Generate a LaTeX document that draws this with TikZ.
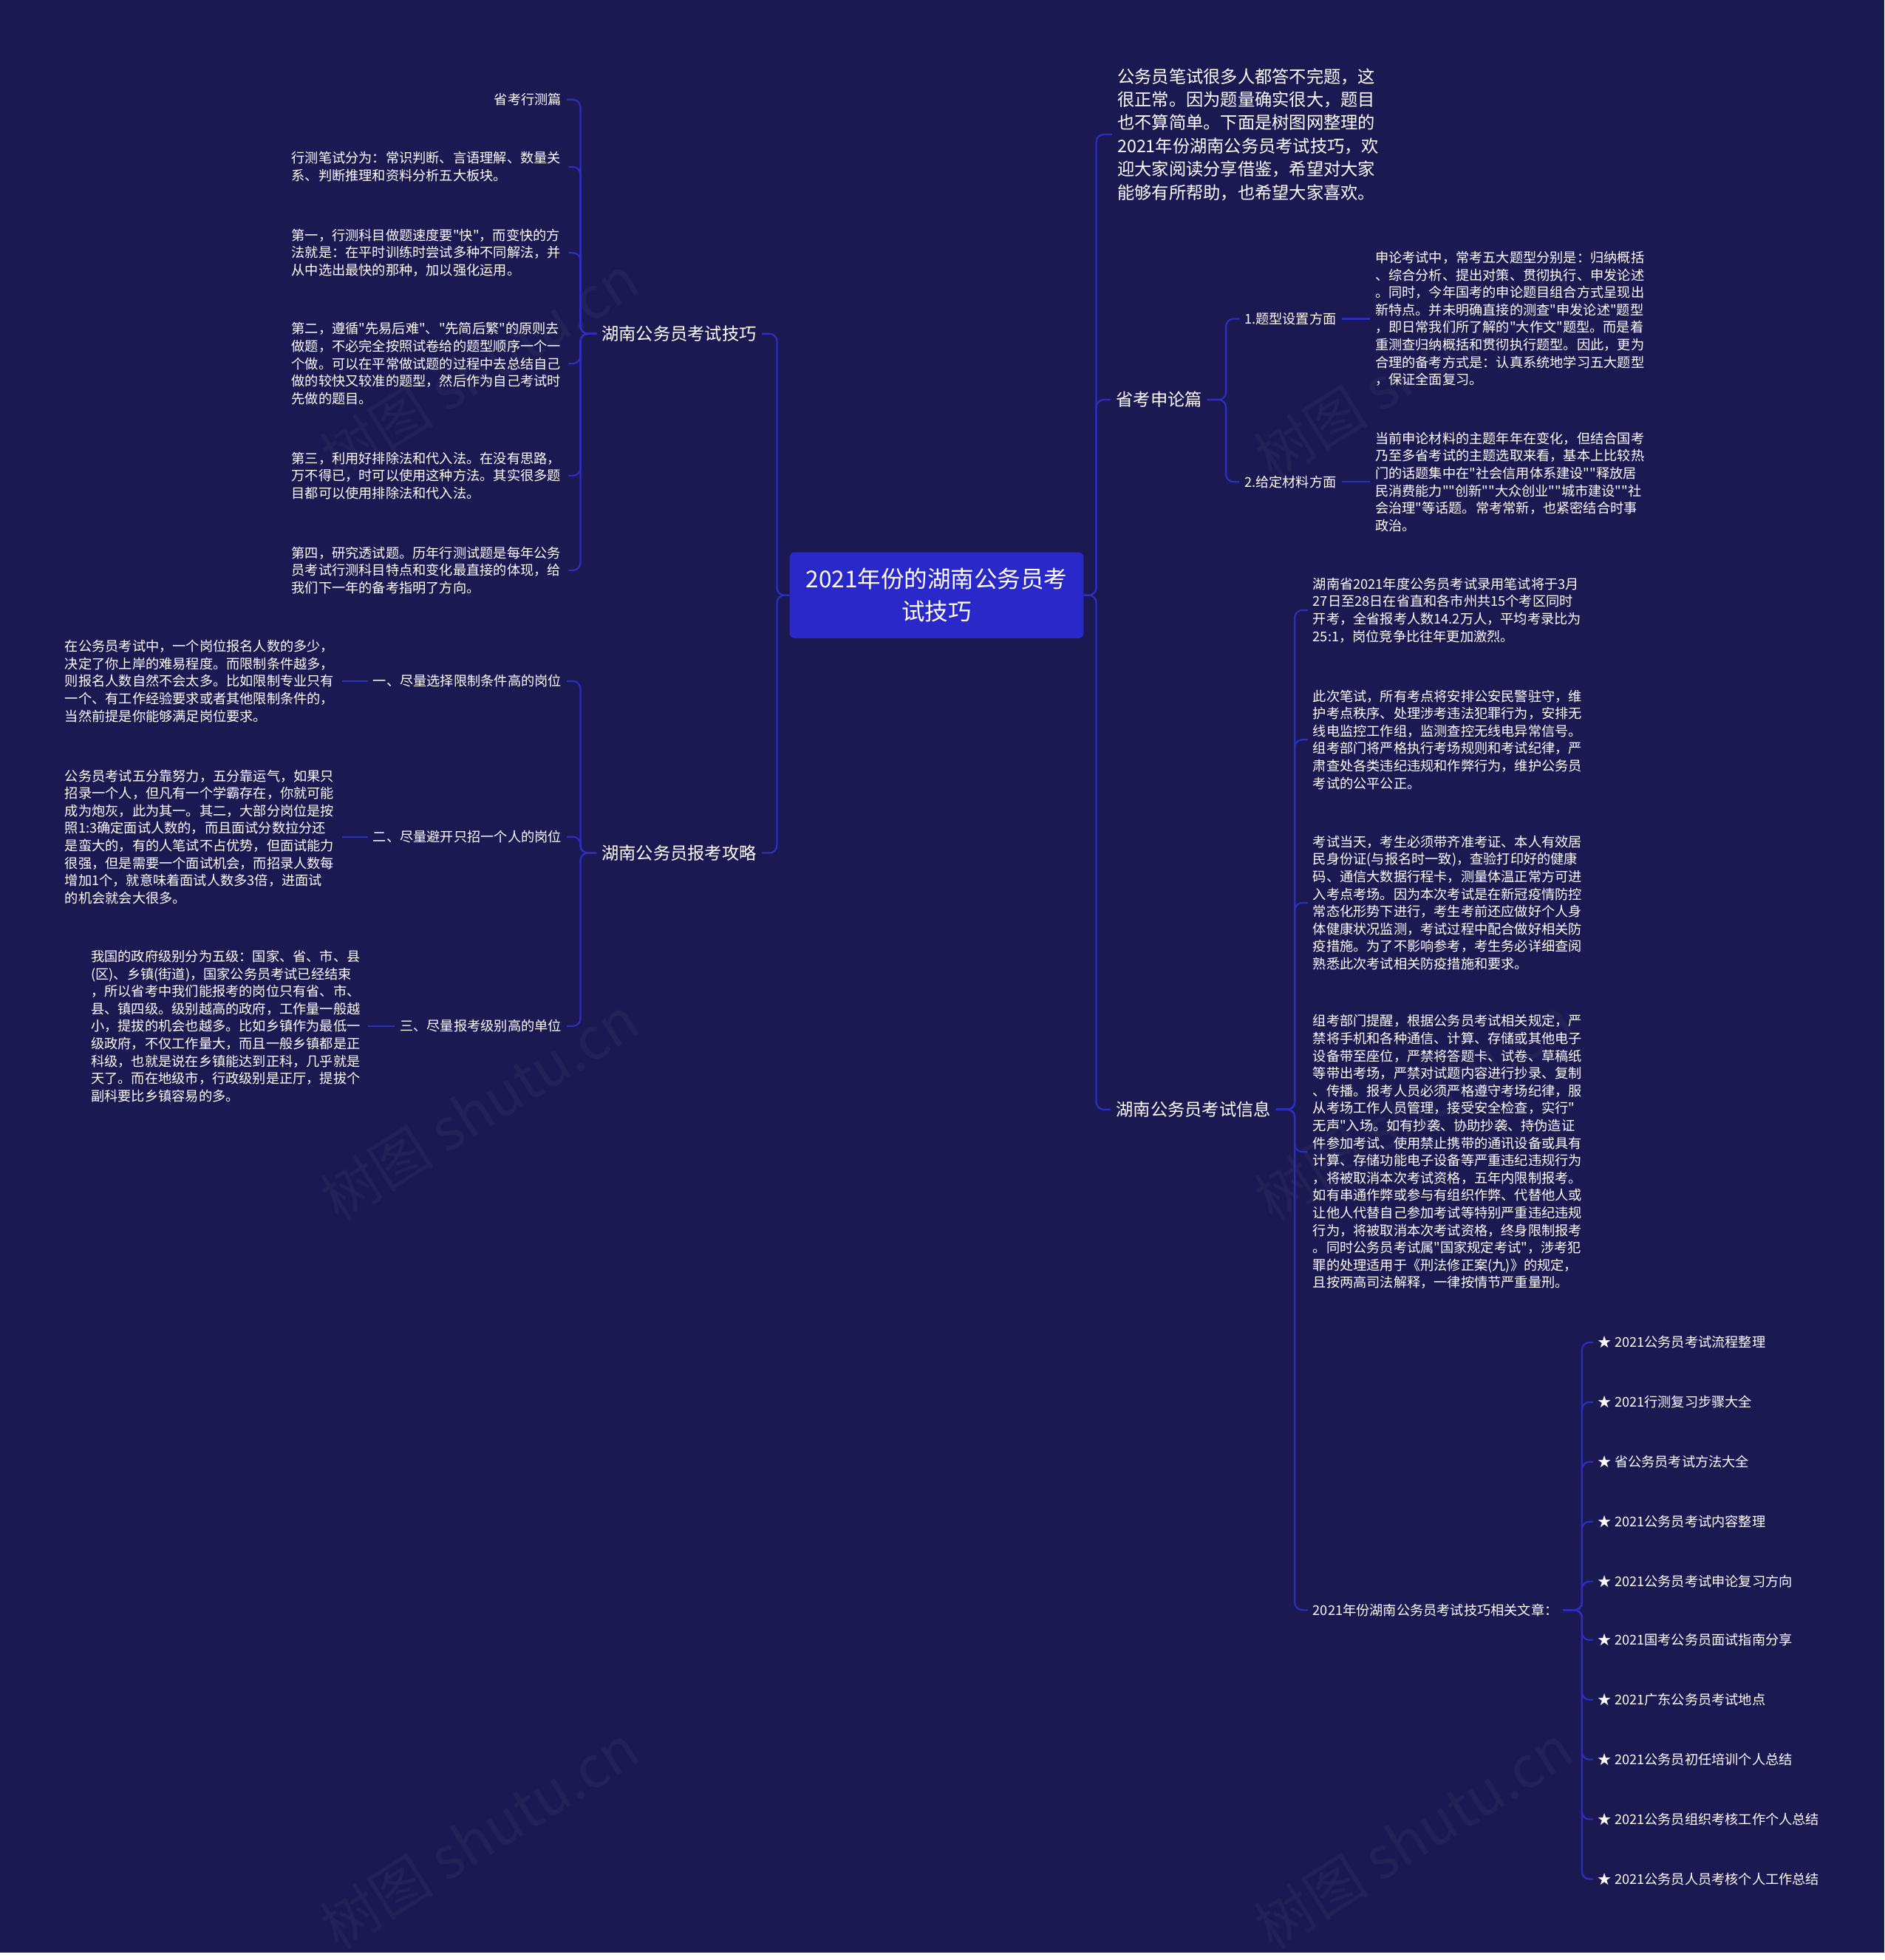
\documentclass[tikz,border=0pt]{standalone}
\usepackage{fontspec}
\newfontfamily\cjk{Noto Sans CJK SC}
\usepackage{tikz}
\definecolor{navybg}{HTML}{1A1951}
\definecolor{rootblue}{HTML}{2A28C8}
\definecolor{linkblue}{HTML}{2D2DC2}

\begin{document}
\begin{tikzpicture}[
  x=1pt, y=-1pt,
  root/.style={fill=rootblue, text=white, rounded corners=4pt, align=center, minimum width=236pt, minimum height=69pt, font=\cjk\fontsize{18.7}{26}\selectfont},
  topic/.style={text=white, inner sep=4pt, font=\cjk\fontsize{13.8}{18.6}\selectfont},
  leaf/.style={text=white, inner sep=4pt, font=\cjk\fontsize{10.8}{14}\selectfont},
  para/.style={leaf, align=left, text width=218pt},
  link/.style={draw=linkblue, line width=1.3pt, rounded corners=6pt},
  wmark/.style={text=white, text opacity=0.04, rotate=32, font=\cjk\fontsize{46}{46}\selectfont}
]
% canvas and faint watermarks
\fill[navybg] (0,0) rectangle (1513,1568);
\node[wmark] (wm1) at (385,295) {树图 shutu.cn};
\node[wmark] (wm2) at (385,890) {树图 shutu.cn};
\node[wmark] (wm3) at (385,1475) {树图 shutu.cn};
\node[wmark] (wm4) at (1135,295) {树图 shutu.cn};
\node[wmark] (wm5) at (1135,890) {树图 shutu.cn};
\node[wmark] (wm6) at (1135,1475) {树图 shutu.cn};

% centre
\node[root] (root) at (752,478) {2021年份的湖南公务员考\\试技巧};

% left branch 1: exam skills
\node[topic, anchor=west] (jq) at (479,268) {湖南公务员考试技巧};
\node[leaf, anchor=east]  (jq1) at (455,80) {省考行测篇};
\node[para, anchor=west]  (jq2) at (230,134) {行测笔试分为：常识判断、言语理解、数量关\\系、判断推理和资料分析五大板块。};
\node[para, anchor=west]  (jq3) at (230,203) {第一，行测科目做题速度要"快"，而变快的方\\法就是：在平时训练时尝试多种不同解法，并\\从中选出最快的那种，加以强化运用。};
\node[para, anchor=west]  (jq4) at (230,292) {第二，遵循"先易后难"、"先简后繁"的原则去\\做题，不必完全按照试卷给的题型顺序一个一\\个做。可以在平常做试题的过程中去总结自己\\做的较快又较准的题型，然后作为自己考试时\\先做的题目。};
\node[para, anchor=west]  (jq5) at (230,382) {第三，利用好排除法和代入法。在没有思路，\\万不得已，时可以使用这种方法。其实很多题\\目都可以使用排除法和代入法。};
\node[para, anchor=west]  (jq6) at (230,458) {第四，研究透试题。历年行测试题是每年公务\\员考试行测科目特点和变化最直接的体现，给\\我们下一年的备考指明了方向。};

% left branch 2: application strategy
\node[topic, anchor=west] (gl) at (479,685) {湖南公务员报考攻略};
\node[leaf, anchor=east]  (gl1) at (455,547) {一、尽量选择限制条件高的岗位};
\node[leaf, anchor=east]  (gl2) at (455,672) {二、尽量避开只招一个人的岗位};
\node[leaf, anchor=east]  (gl3) at (455,824) {三、尽量报考级别高的单位};
\node[para, anchor=west]  (gl1p) at (48,547) {在公务员考试中，一个岗位报名人数的多少，\\决定了你上岸的难易程度。而限制条件越多，\\则报名人数自然不会太多。比如限制专业只有\\一个、有工作经验要求或者其他限制条件的，\\当然前提是你能够满足岗位要求。};
\node[para, anchor=west]  (gl2p) at (48,672) {公务员考试五分靠努力，五分靠运气，如果只\\招录一个人，但凡有一个学霸存在，你就可能\\成为炮灰，此为其一。其二，大部分岗位是按\\照1:3确定面试人数的，而且面试分数拉分还\\是蛮大的，有的人笔试不占优势，但面试能力\\很强，但是需要一个面试机会，而招录人数每\\增加1个，就意味着面试人数多3倍，进面试\\的机会就会大很多。};
\node[para, anchor=west]  (gl3p) at (69,824) {我国的政府级别分为五级：国家、省、市、县\\(区)、乡镇(街道)，国家公务员考试已经结束\\，所以省考中我们能报考的岗位只有省、市、\\县、镇四级。级别越高的政府，工作量一般越\\小，提拔的机会也越多。比如乡镇作为最低一\\级政府，不仅工作量大，而且一般乡镇都是正\\科级，也就是说在乡镇能达到正科，几乎就是\\天了。而在地级市，行政级别是正厅，提拔个\\副科要比乡镇容易的多。};

% right branch 0: intro
\node[topic, anchor=west, align=left] (intro) at (893,108) {公务员笔试很多人都答不完题，这\\很正常。因为题量确实很大，题目\\也不算简单。下面是树图网整理的\\2021年份湖南公务员考试技巧，欢\\迎大家阅读分享借鉴，希望对大家\\能够有所帮助，也希望大家喜欢。};

% right branch 1: essay
\node[topic, anchor=west] (sl) at (892,321) {省考申论篇};
\node[leaf, anchor=west]  (sl1) at (995,256) {1.题型设置方面};
\node[leaf, anchor=west]  (sl2) at (995,387) {2.给定材料方面};
\node[para, anchor=west]  (sl1p) at (1100,256) {申论考试中，常考五大题型分别是：归纳概括\\、综合分析、提出对策、贯彻执行、申发论述\\。同时，今年国考的申论题目组合方式呈现出\\新特点。并未明确直接的测查"申发论述"题型\\，即日常我们所了解的"大作文"题型。而是着\\重测查归纳概括和贯彻执行题型。因此，更为\\合理的备考方式是：认真系统地学习五大题型\\，保证全面复习。};
\node[para, anchor=west]  (sl2p) at (1100,387) {当前申论材料的主题年年在变化，但结合国考\\乃至多省考试的主题选取来看，基本上比较热\\门的话题集中在"社会信用体系建设""释放居\\民消费能力""创新""大众创业""城市建设""社\\会治理"等话题。常考常新，也紧密结合时事\\政治。};

% right branch 2: exam info
\node[topic, anchor=west] (xx) at (892,891) {湖南公务员考试信息};
\node[para, anchor=west]  (xx1) at (1050,490) {湖南省2021年度公务员考试录用笔试将于3月\\27日至28日在省直和各市州共15个考区同时\\开考，全省报考人数14.2万人，平均考录比为\\25:1，岗位竞争比往年更加激烈。};
\node[para, anchor=west]  (xx2) at (1050,594) {此次笔试，所有考点将安排公安民警驻守，维\\护考点秩序、处理涉考违法犯罪行为，安排无\\线电监控工作组，监测查控无线电异常信号。\\组考部门将严格执行考场规则和考试纪律，严\\肃查处各类违纪违规和作弊行为，维护公务员\\考试的公平公正。};
\node[para, anchor=west]  (xx3) at (1050,725) {考试当天，考生必须带齐准考证、本人有效居\\民身份证(与报名时一致)，查验打印好的健康\\码、通信大数据行程卡，测量体温正常方可进\\入考点考场。因为本次考试是在新冠疫情防控\\常态化形势下进行，考生考前还应做好个人身\\体健康状况监测，考试过程中配合做好相关防\\疫措施。为了不影响参考，考生务必详细查阅\\熟悉此次考试相关防疫措施和要求。};
\node[para, anchor=west]  (xx4) at (1050,925) {组考部门提醒，根据公务员考试相关规定，严\\禁将手机和各种通信、计算、存储或其他电子\\设备带至座位，严禁将答题卡、试卷、草稿纸\\等带出考场，严禁对试题内容进行抄录、复制\\、传播。报考人员必须严格遵守考场纪律，服\\从考场工作人员管理，接受安全检查，实行"\\无声"入场。如有抄袭、协助抄袭、持伪造证\\件参加考试、使用禁止携带的通讯设备或具有\\计算、存储功能电子设备等严重违纪违规行为\\，将被取消本次考试资格，五年内限制报考。\\如有串通作弊或参与有组织作弊、代替他人或\\让他人代替自己参加考试等特别严重违纪违规\\行为，将被取消本次考试资格，终身限制报考\\。同时公务员考试属"国家规定考试"，涉考犯\\罪的处理适用于《刑法修正案(九)》的规定，\\且按两高司法解释，一律按情节严重量刑。};
\node[leaf, anchor=west]  (xx5) at (1050,1293) {2021年份湖南公务员考试技巧相关文章：};

% related articles
\node[leaf, anchor=west] (ar1)  at (1279,1078) {★ 2021公务员考试流程整理};
\node[leaf, anchor=west] (ar2)  at (1279,1126) {★ 2021行测复习步骤大全};
\node[leaf, anchor=west] (ar3)  at (1279,1174) {★ 省公务员考试方法大全};
\node[leaf, anchor=west] (ar4)  at (1279,1222) {★ 2021公务员考试内容整理};
\node[leaf, anchor=west] (ar5)  at (1279,1270) {★ 2021公务员考试申论复习方向};
\node[leaf, anchor=west] (ar6)  at (1279,1317) {★ 2021国考公务员面试指南分享};
\node[leaf, anchor=west] (ar7)  at (1279,1365) {★ 2021广东公务员考试地点};
\node[leaf, anchor=west] (ar8)  at (1279,1413) {★ 2021公务员初任培训个人总结};
\node[leaf, anchor=west] (ar9)  at (1279,1461) {★ 2021公务员组织考核工作个人总结};
\node[leaf, anchor=west] (ar10) at (1279,1509) {★ 2021公务员人员考核个人工作总结};

% trunks from the centre
\draw[link] (root.west) -- ++(-10,0) |- (jq.east);
\draw[link] (root.west) -- ++(-10,0) |- (gl.east);
\draw[link] (root.east) -- ++(10,0) |- (intro.west);
\draw[link] (root.east) -- ++(10,0) |- (sl.west);
\draw[link] (root.east) -- ++(10,0) |- (xx.west);

% left brackets
\draw[link] (jq.west) -- ++(-13,0) |- (jq1.east);
\draw[link] (jq.west) -- ++(-13,0) |- (jq2.east);
\draw[link] (jq.west) -- ++(-13,0) |- (jq3.east);
\draw[link] (jq.west) -- ++(-13,0) |- (jq4.east);
\draw[link] (jq.west) -- ++(-13,0) |- (jq5.east);
\draw[link] (jq.west) -- ++(-13,0) |- (jq6.east);
\draw[link] (gl.west) -- ++(-13,0) |- (gl1.east);
\draw[link] (gl.west) -- ++(-13,0) |- (gl2.east);
\draw[link] (gl.west) -- ++(-13,0) |- (gl3.east);
\draw[link] (gl1.west) -- (gl1p.east);
\draw[link] (gl2.west) -- (gl2p.east);
\draw[link] (gl3.west) -- (gl3p.east);

% right brackets
\draw[link] (sl.east) -- ++(15,0) |- (sl1.west);
\draw[link] (sl.east) -- ++(15,0) |- (sl2.west);
\draw[link] (sl1.east) -- (sl1p.west);
\draw[link] (sl2.east) -- (sl2p.west);
\draw[link] (xx.east) -- ++(15,0) |- (xx1.west);
\draw[link] (xx.east) -- ++(15,0) |- (xx2.west);
\draw[link] (xx.east) -- ++(15,0) |- (xx3.west);
\draw[link] (xx.east) -- ++(15,0) |- (xx4.west);
\draw[link] (xx.east) -- ++(15,0) |- (xx5.west);
\draw[link] (xx5.east) -- ++(15,0) |- (ar1.west);
\draw[link] (xx5.east) -- ++(15,0) |- (ar2.west);
\draw[link] (xx5.east) -- ++(15,0) |- (ar3.west);
\draw[link] (xx5.east) -- ++(15,0) |- (ar4.west);
\draw[link] (xx5.east) -- ++(15,0) |- (ar5.west);
\draw[link] (xx5.east) -- ++(15,0) |- (ar6.west);
\draw[link] (xx5.east) -- ++(15,0) |- (ar7.west);
\draw[link] (xx5.east) -- ++(15,0) |- (ar8.west);
\draw[link] (xx5.east) -- ++(15,0) |- (ar9.west);
\draw[link] (xx5.east) -- ++(15,0) |- (ar10.west);
\end{tikzpicture}
\end{document}
